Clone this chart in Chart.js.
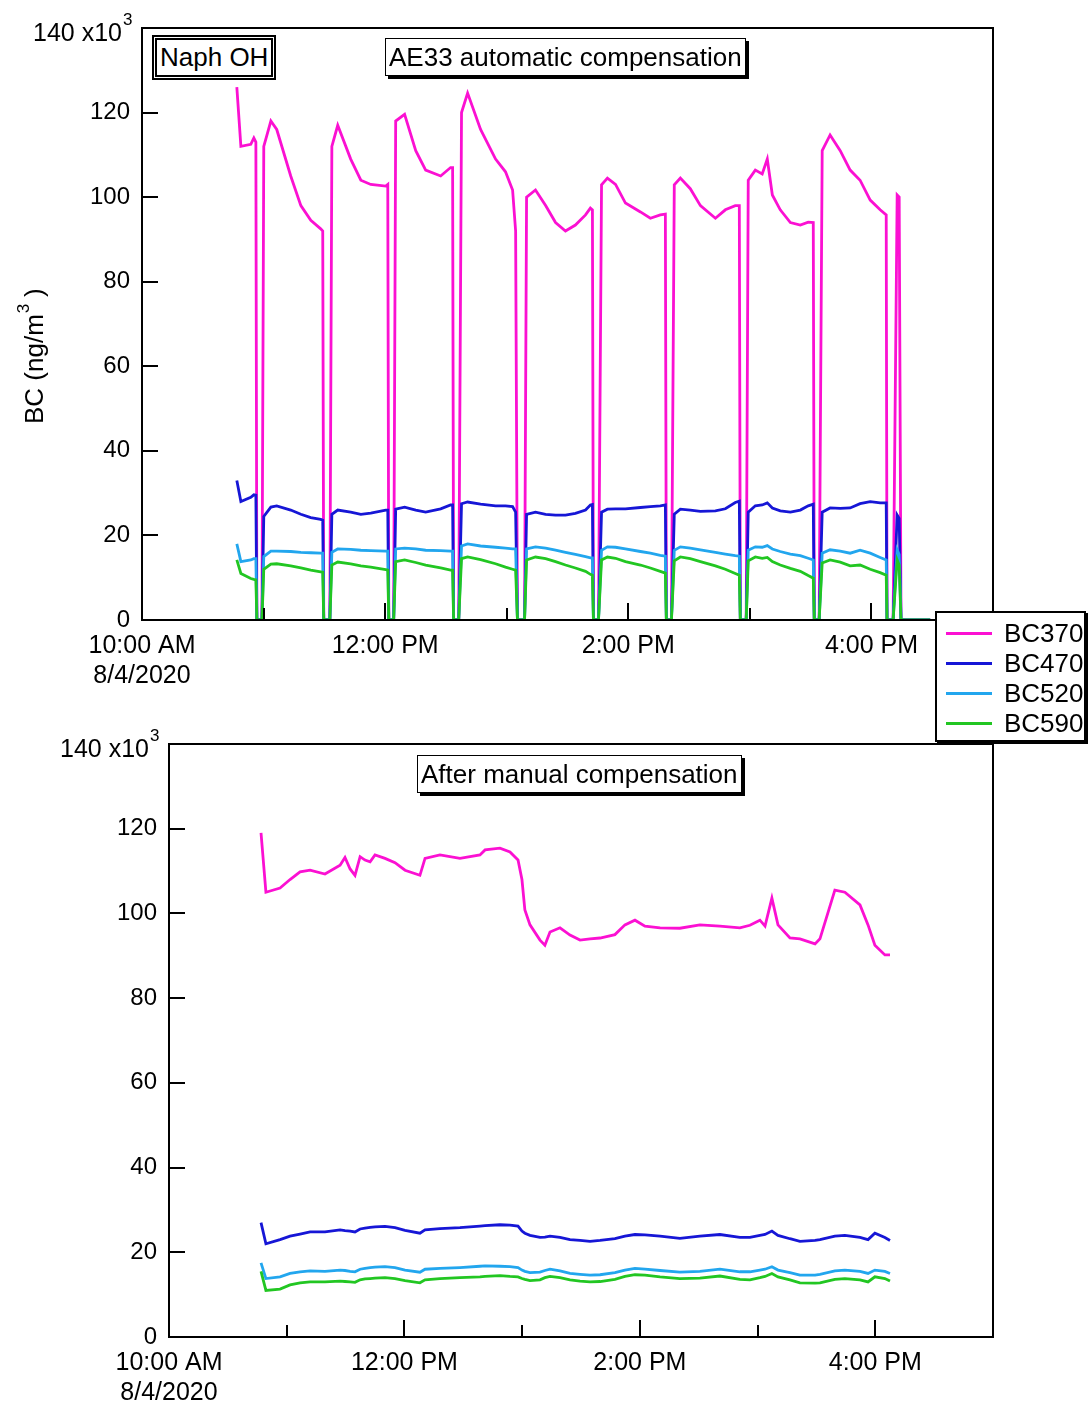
<!DOCTYPE html>
<html>
<head>
<meta charset="utf-8">
<script src="https://cdn.jsdelivr.net/npm/chart.js@4.4.1/dist/chart.umd.min.js"></script>
<style>
  body { margin: 0; background: #fff; }
  #wrap { position: relative; width: 1088px; height: 1404px; font-family: "Liberation Sans", Arial, sans-serif; color: #000; }
  canvas { position: absolute; left: 0; }
  .box { position: absolute; font-size: 26px; line-height: 36px; background: #fff; white-space: nowrap; }
  .shadow { border: 1.5px solid #000; box-shadow: 3px 3px 0 #000; padding: 0 3px; }
  #legend { position: absolute; left: 935px; top: 611px; width: 151px; height: 131px; border: 2px solid #000;
            box-shadow: 2px 2px 0 #000; background: #fff; z-index: 5; padding-top: 5px; box-sizing: border-box; }
  #legend div { height: 30px; line-height: 30px; font-size: 26px; position: relative; padding-left: 67px; }
  #legend span { position: absolute; left: 9px; top: 14px; width: 46px; height: 2.5px; }
</style>
</head>
<body>
<div id="wrap">
  <canvas id="top" width="1088" height="700" style="top:0"></canvas>
  <canvas id="bottom" width="1088" height="704" style="top:700px"></canvas>
  <div class="box" style="left:152px;top:35px;border:5px double #000;padding:0 3px;line-height:35px">Naph OH</div>
  <div class="box shadow" style="left:385px;top:38px;">AE33 automatic compensation</div>
  <div class="box shadow" style="left:417px;top:755px;">After manual compensation</div>
  <div id="legend"></div>
</div>
<script>
// minutes after 10:00 AM, 8/4/2020
const seriesNames = ['BC370', 'BC470', 'BC520', 'BC590'];
const seriesColors = ['#fb10d2', '#1616d6', '#22a6ee', '#22c622'];

// AE33 automatic compensation (x10^3 ng/m3)
const autoTime = [46.8, 48.8, 53.7, 55.2, 56.2, 56.7, 59.2, 60.1, 63.6, 66.5, 73.4, 78.4, 83.3, 88.2, 89.2, 89.7, 92.7,
  93.7, 96.6, 103, 108, 112.9, 120.3, 121.3, 121.8, 124.2, 125.2, 129.6, 135.1, 140, 147.4, 152.3, 153.3, 153.8, 156.3,
  157.7, 160.7, 167.1, 174.5, 179.4, 182.9, 184.4, 185.3, 188.8, 189.8, 194.2, 199.2, 204.1, 209, 213.9, 218.9, 221.3,
  222.3, 222.8, 225.3, 226.8, 229.7, 233.7, 238.6, 246, 250.9, 255.8, 258.3, 258.8, 261.3, 262.7, 265.7, 270.6, 275.6,
  283, 287.9, 292.8, 294.8, 295.3, 298.2, 299.2, 302.7, 306.1, 308.6, 311.1, 315, 320, 324.9, 328.8, 331.3, 331.8, 334.2,
  335.7, 339.6, 344.6, 349.5, 354.4, 359.4, 364.3, 367.3, 367.7, 370.7, 372.7, 373.7, 374.6, 389];
const autoBC370 = [126, 112, 112.5, 114, 113, 0, 0, 112, 118, 116, 105, 98, 94.5, 92.5, 92, 0, 0,
  112, 117, 109, 104, 103, 102.6, 103, 0, 0, 118, 119.6, 111, 106.4, 105, 107, 107, 0, 0,
  120, 124.6, 116, 109, 106, 101.7, 92, 0, 0, 100, 101.7, 98, 94, 92, 93.4, 95.8, 97.4,
  97, 0, 0, 102.9, 104.5, 103, 98.6, 96.5, 95, 95.8, 96, 0, 0, 102.9, 104.5, 102, 98,
  95, 97, 98, 98, 0, 0, 104, 106.4, 105.5, 109, 100.5, 97, 94, 93.4, 94.1, 94, 0, 0,
  111, 114.7, 111, 106.4, 104, 99.3, 97, 95.8, 0, 0, 100.5, 100, 0, 0];
const autoBC470 = [33, 28, 29, 29.6, 29.5, 0, 0, 24.5, 26.7, 27, 26, 25, 24.2, 23.8, 23.6, 0, 0,
  25, 26, 25.5, 25, 25.3, 26, 26, 0, 0, 26.2, 26.7, 26, 25.5, 26.3, 27.2, 27.2, 0, 0,
  27.5, 27.9, 27.4, 27, 27, 26.8, 25.5, 0, 0, 25, 25.5, 25, 24.8, 24.8, 25.2, 26, 27.2,
  27.3, 0, 0, 25.5, 26.2, 26.3, 26.3, 26.6, 26.8, 27, 27.2, 0, 0, 25, 26.2, 26, 25.7,
  25.8, 26.3, 27.8, 28.1, 0, 0, 25.5, 27, 27.2, 27.7, 26.5, 25.8, 25.5, 26, 27, 27.4, 0, 0,
  25.5, 26.5, 26.4, 26.5, 27.5, 28, 27.7, 27.7, 0, 0, 24.8, 24, 0, 0];
const autoBC520 = [18, 13.8, 14.2, 14.5, 14.5, 0, 0, 15, 16.3, 16.3, 16.2, 16, 15.9, 15.8, 15.8, 0, 0,
  16, 16.8, 16.7, 16.5, 16.4, 16.3, 16.3, 0, 0, 16.8, 17, 16.8, 16.5, 16.4, 16.3, 16.3, 0, 0,
  17.5, 18, 17.5, 17.2, 17, 16.8, 16.8, 0, 0, 16.8, 17.3, 17, 16.5, 16, 15.5, 15, 14.7,
  14.7, 0, 0, 16.5, 17.3, 17.2, 16.8, 16.2, 15.8, 15.3, 15.1, 0, 0, 16.5, 17.3, 17, 16.6,
  16, 15.6, 15.2, 15.1, 0, 0, 16.5, 17.3, 17.2, 17.6, 16.8, 16.2, 15.6, 15.2, 14.6, 14.2, 0, 0,
  15.8, 16.6, 16.3, 15.8, 16.5, 15.8, 14.8, 14.2, 0, 0, 16.6, 15.5, 0, 0];
const autoBC590 = [14.2, 11, 9.8, 9.6, 9.5, 0, 0, 12, 13.2, 13.3, 12.8, 12.3, 11.8, 11.4, 11.3, 0, 0,
  13, 13.7, 13.3, 12.8, 12.5, 11.9, 11.8, 0, 0, 13.8, 14.2, 13.6, 13, 12.3, 11.8, 11.8, 0, 0,
  14.5, 14.9, 14.3, 13.3, 12.5, 12, 11.8, 0, 0, 14.2, 14.9, 14.5, 13.8, 13, 12.3, 11.5, 10.8,
  10.6, 0, 0, 14.2, 14.9, 14.6, 13.8, 13, 12.3, 11.5, 11.1, 0, 0, 14, 14.9, 14.5, 13.8,
  12.8, 12, 11, 10.6, 0, 0, 14, 14.9, 14.6, 14.8, 13.8, 13, 12.2, 11.5, 10.5, 9.9, 0, 0,
  13.5, 14.2, 13.7, 12.8, 13, 12, 11.2, 10.6, 0, 0, 14.2, 13, 0, 0];

// after manual compensation (x10^3 ng/m3)
const manTime = [46.9, 49.4, 56.6, 61.7, 66.8, 71.9, 79.5, 87.2, 89.7, 92.3, 94.8, 97.4, 99.9, 102.5, 105, 110.1,
  115.2, 120.3, 127.9, 130.5, 138.1, 148.3, 158.5, 161.1, 168.7, 173.8, 177.9, 179.9, 181.4, 184, 189.1, 191.6,
  194.2, 199.3, 204.4, 209.5, 214.6, 219.7, 227.3, 232.4, 237.5, 242.6, 250.3, 260.4, 270.6, 280.8, 291, 296.1,
  301.2, 303.8, 307.3, 310.4, 316.5, 321.6, 329.3, 331.8, 339.4, 344.5, 352.2, 356.3, 359.8, 364.9, 367.5];
const manBC370 = [119, 105, 106, 108, 109.8, 110.2, 109.3, 111.4, 113.2, 110.5, 109, 113.4, 112.6, 112.2, 113.8, 113,
  112, 110.2, 109, 113, 113.8, 113, 113.8, 115, 115.4, 114.5, 112.6, 108, 100.8, 97.3, 93.7, 92.5,
  95.6, 96.6, 94.9, 93.7, 94, 94.2, 95, 97.3, 98.4, 97, 96.6, 96.5, 97.3, 97, 96.6, 97.2,
  98.4, 97, 103.6, 97.3, 94.2, 94, 92.8, 94, 105.5, 105, 102, 97.3, 92.5, 90.2, 90.2];
const manBC470 = [27, 22, 23, 23.8, 24.3, 24.8, 24.8, 25.3, 25.1, 25, 24.8, 25.5, 25.7, 25.9, 26, 26.1,
  25.8, 25.2, 24.5, 25.3, 25.6, 25.8, 26.2, 26.3, 26.5, 26.4, 26.2, 25, 24.5, 24, 23.5, 23.6,
  23.8, 23.5, 23, 22.8, 22.6, 22.8, 23.2, 23.8, 24.2, 24.1, 23.8, 23.3, 23.8, 24.2, 23.5, 23.5,
  24, 24.2, 25, 24, 23.2, 22.6, 22.8, 23, 23.8, 24, 23.5, 23, 24.5, 23.5, 22.8];
const manBC520 = [17.5, 13.8, 14.2, 15, 15.4, 15.6, 15.5, 15.8, 15.7, 15.5, 15.4, 16, 16.2, 16.4, 16.5, 16.6,
  16.4, 15.8, 15.3, 16, 16.2, 16.4, 16.7, 16.8, 16.7, 16.6, 16.4, 15.8, 15.5, 15.2, 15.3, 15.7,
  16, 15.6, 15, 14.8, 14.6, 14.7, 15.2, 15.8, 16.2, 16, 15.7, 15.3, 15.5, 16, 15.4, 15.4,
  15.8, 16, 16.6, 15.8, 15.2, 14.6, 14.6, 14.8, 15.6, 15.8, 15.5, 15, 15.8, 15.5, 15];
const manBC590 = [15.5, 11, 11.3, 12.3, 12.8, 13, 13, 13.2, 13.1, 13, 12.9, 13.5, 13.7, 13.8, 13.9, 14,
  13.8, 13.3, 12.8, 13.5, 13.8, 14, 14.2, 14.3, 14.5, 14.3, 14.2, 13.8, 13.6, 13.3, 13.5, 14,
  14.3, 14, 13.5, 13.2, 13, 13.1, 13.6, 14.3, 14.7, 14.6, 14.2, 13.8, 13.9, 14.4, 13.6, 13.5,
  14, 14.3, 15, 14.2, 13.5, 12.8, 12.7, 12.8, 13.6, 13.8, 13.5, 13, 14.2, 13.8, 13.2];

const xLabels = { 0: ['10:00 AM', '8/4/2020'], 120: '12:00 PM', 240: '2:00 PM', 360: '4:00 PM' };
const FONT = '"Liberation Sans", Arial, sans-serif';

function makeSets(time, lists) {
  return lists.map((vals, i) => ({
    label: seriesNames[i],
    data: time.map((t, j) => ({ x: t, y: vals[j] })),
    borderColor: seriesColors[i],
    borderWidth: 2.8,
    pointRadius: 0,
    tension: 0,
    order: 3 - i
  }));
}

const frameTicks = {
  id: 'frameTicks',
  afterDraw(chart) {
    const { ctx, chartArea: a, scales: { x, y } } = chart;
    ctx.save();
    ctx.strokeStyle = '#000';
    ctx.lineWidth = 2;
    ctx.strokeRect(a.left, a.top, a.right - a.left, a.bottom - a.top);
    ctx.beginPath();
    y.ticks.forEach(t => {
      if (t.value > 0 && t.value < 140) {
        const p = Math.round(y.getPixelForValue(t.value));
        ctx.moveTo(a.left, p); ctx.lineTo(a.left + 16, p);
      }
    });
    x.ticks.forEach(t => {
      if (t.value > 0 && t.value < 420) {
        const p = Math.round(x.getPixelForValue(t.value));
        ctx.moveTo(p, a.bottom); ctx.lineTo(p, a.bottom - (t.value % 120 === 0 ? 17 : 12));
      }
    });
    ctx.stroke();
    const py = y.getPixelForValue(140);
    ctx.fillStyle = '#000';
    ctx.font = '25px ' + FONT;
    ctx.textAlign = 'right';
    ctx.textBaseline = 'middle';
    ctx.fillText('140 x10', a.left - 20, py + 6);
    ctx.font = '17px ' + FONT;
    ctx.textAlign = 'left';
    ctx.fillText('3', a.left - 19, py - 8);
    if (chart.canvas.id === 'top') {
      ctx.translate(36, 360);
      ctx.rotate(-Math.PI / 2);
      ctx.font = '26px ' + FONT;
      ctx.textAlign = 'left';
      ctx.fillText('BC (ng/m', -64, 0);
      const w = ctx.measureText('BC (ng/m').width;
      ctx.font = '17px ' + FONT;
      ctx.fillText('3', -64 + w + 1, -12);
      ctx.font = '26px ' + FONT;
      ctx.fillText(' )', -64 + w + 10, 0);
    }
    ctx.restore();
  }
};

function makeChart(id, time, lists, padTop, yWidth, xHeight) {
  return new Chart(document.getElementById(id), {
    type: 'line',
    data: { datasets: makeSets(time, lists) },
    options: {
      responsive: false,
      animation: false,
      layout: { padding: { top: padTop, right: 95, left: 0, bottom: 0 } },
      plugins: { legend: { display: false }, tooltip: { enabled: false } },
      scales: {
        x: {
          type: 'linear', min: 0, max: 420,
          grid: { display: false, drawTicks: false, tickLength: 0 },
          border: { display: false },
          ticks: {
            stepSize: 60, autoSkip: false, maxRotation: 0, padding: 11, color: '#000',
            font: { family: FONT, size: 25, lineHeight: 1.2 },
            callback: v => xLabels[v] || ''
          },
          afterFit: s => { s.height = xHeight; }
        },
        y: {
          min: 0, max: 140,
          grid: { display: false, drawTicks: false, tickLength: 0 },
          border: { display: false },
          ticks: {
            stepSize: 20, padding: 12, color: '#000',
            font: { family: FONT, size: 24 },
            callback: v => v === 140 ? '' : v
          },
          afterFit: s => { s.width = yWidth; }
        }
      }
    },
    plugins: [frameTicks]
  });
}

makeChart('top', autoTime, [autoBC370, autoBC470, autoBC520, autoBC590], 28, 142, 80);
makeChart('bottom', manTime, [manBC370, manBC470, manBC520, manBC590], 44, 169, 67);

const legend = document.getElementById('legend');
seriesNames.forEach((n, i) => {
  const row = document.createElement('div');
  row.innerHTML = '<span style="background:' + seriesColors[i] + '"></span>' + n;
  legend.appendChild(row);
});
</script>
</body>
</html>
